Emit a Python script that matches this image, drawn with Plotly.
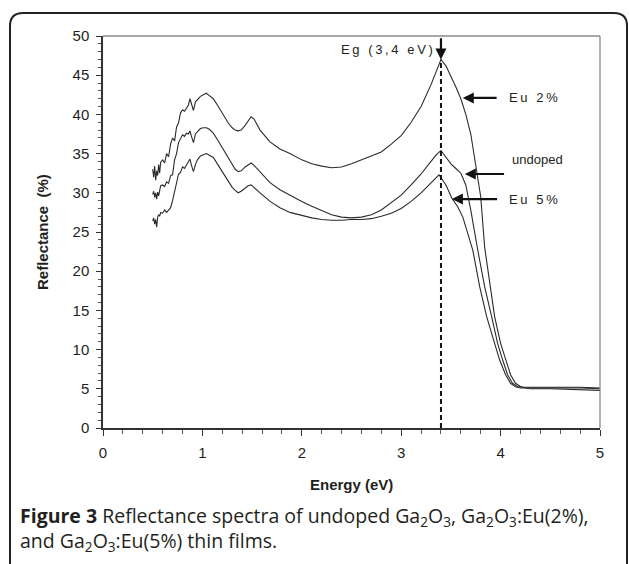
import plotly.graph_objects as go

# Reflectance spectra (%) versus photon energy (eV)
eu2_energy = [0.50, 0.51, 0.52, 0.53, 0.54, 0.55, 0.56, 0.57, 0.58,
              0.60, 0.62, 0.64, 0.66, 0.68, 0.70, 0.72, 0.74, 0.76, 0.78, 0.80, 0.82, 0.84, 0.86,
              0.875, 0.89, 0.91, 0.93, 0.95, 0.98,
              1.01, 1.04, 1.07, 1.11, 1.16, 1.21, 1.26, 1.30, 1.33, 1.36, 1.39, 1.43, 1.46, 1.49,
              1.52, 1.58, 1.68, 1.78, 1.88,
              2.0, 2.1, 2.2, 2.3, 2.4, 2.5, 2.6, 2.7, 2.8, 2.9, 3.0, 3.1, 3.2, 3.3,
              3.35, 3.40, 3.45, 3.50, 3.55, 3.60, 3.65, 3.70, 3.75, 3.80,
              3.84, 3.89, 3.94, 4.00, 4.06, 4.10, 4.15, 4.20, 4.25,
              4.30, 4.50, 4.80, 5.00]
eu2_refl = [33.0, 32.0, 33.4, 31.6, 32.8, 32.2, 33.6, 32.5, 33.9,
            34.2, 33.8, 35.0, 34.6, 36.2, 37.0, 36.6, 38.4, 38.9, 40.2, 40.6, 40.4, 40.9, 41.2,
            42.0, 41.4, 40.5, 41.6, 41.9, 42.3,
            42.5, 42.7, 42.4, 42.0, 41.0, 39.9, 38.9, 38.3, 38.0, 37.9, 38.0, 38.6, 39.2, 39.7,
            39.4, 38.0, 36.5, 35.6, 35.0,
            34.2, 33.7, 33.4, 33.2, 33.3, 33.7, 34.2, 34.7, 35.2, 36.2, 37.3, 39.0, 41.0, 43.8,
            45.5, 47.0, 46.2, 44.9, 43.5, 42.0, 40.0, 37.5, 33.5, 29.5,
            23.0, 18.5, 14.2, 10.8, 8.5, 6.8, 5.7, 5.3, 5.1,
            5.0, 5.0, 4.9, 4.8]

undoped_energy = [0.50, 0.51, 0.52, 0.53, 0.54, 0.55, 0.56, 0.57, 0.58,
                  0.60, 0.62, 0.64, 0.66, 0.68, 0.70, 0.72, 0.74, 0.76, 0.78, 0.80, 0.82, 0.84, 0.86,
                  0.875, 0.89, 0.91, 0.93, 0.95, 0.98,
                  1.01, 1.04, 1.07, 1.11, 1.16, 1.21, 1.26, 1.30, 1.33, 1.36, 1.39, 1.43, 1.46, 1.49,
                  1.52, 1.58, 1.68, 1.78, 1.88,
                  2.0, 2.1, 2.2, 2.3, 2.4, 2.5, 2.6, 2.7, 2.8, 2.9, 3.0, 3.1, 3.2, 3.3,
                  3.35, 3.40, 3.45, 3.50, 3.55, 3.60, 3.65, 3.70,
                  3.77, 3.84, 3.91, 3.97, 4.02, 4.07, 4.12, 4.17, 4.22,
                  4.30, 4.50, 4.80, 5.00]
undoped_refl = [29.8, 30.2, 29.4, 30.0, 29.2, 30.1, 29.6, 30.4, 30.9,
                31.0, 30.8, 31.4, 31.2, 32.2, 32.3, 34.2, 35.0, 36.4, 37.0, 37.4, 37.2, 37.6, 37.5,
                37.9, 37.2, 36.4, 37.5, 37.8, 38.2,
                38.3, 38.3, 38.1, 37.6, 36.6, 35.5, 34.5, 33.7, 33.0, 32.7, 32.8, 33.3, 33.6, 33.8,
                33.5, 32.7, 31.3, 30.4, 29.7,
                28.9, 28.3, 27.7, 27.2, 26.9, 26.8, 26.9, 27.2, 27.8, 28.7, 29.7, 31.0, 32.4, 34.0,
                34.8, 35.4, 34.5, 33.7, 33.1, 32.5, 31.0, 27.8,
                22.7, 18.0, 14.2, 10.8, 8.7, 6.8, 5.7, 5.3, 5.2,
                5.2, 5.2, 5.2, 5.1]

eu5_energy = [0.50, 0.51, 0.52, 0.53, 0.54, 0.55, 0.56, 0.57, 0.58,
              0.60, 0.62, 0.64, 0.66, 0.68, 0.70, 0.72, 0.74, 0.76, 0.78, 0.80, 0.82, 0.84, 0.86,
              0.875, 0.89, 0.91, 0.93, 0.95, 0.98,
              1.01, 1.04, 1.07, 1.11, 1.16, 1.21, 1.26, 1.30, 1.33, 1.36, 1.39, 1.43, 1.46, 1.49,
              1.52, 1.58, 1.68, 1.78, 1.88,
              2.0, 2.1, 2.2, 2.3, 2.4, 2.5, 2.6, 2.7, 2.8, 2.9, 3.0, 3.1, 3.2, 3.3,
              3.38, 3.45, 3.51, 3.57, 3.62, 3.67, 3.72, 3.79, 3.86, 3.93, 3.99,
              4.05, 4.10, 4.15, 4.20, 4.30, 4.50, 4.80, 5.00]
eu5_refl = [26.4, 26.8, 26.0, 26.6, 25.6, 26.9, 27.2, 27.0, 27.5,
            27.4, 27.8, 27.5, 27.8, 28.1, 29.0, 30.1, 31.2, 32.4, 32.6, 33.3, 33.1, 33.6, 33.9,
            34.3, 33.5, 32.7, 33.6, 34.2, 34.7,
            34.9, 35.0, 34.8, 34.5, 33.5, 32.5, 31.4, 30.7, 30.3, 30.0, 30.2, 30.6, 30.9, 31.0,
            30.7, 30.0, 28.9, 28.1, 27.5,
            27.1, 26.8, 26.6, 26.5, 26.5, 26.6, 26.6, 26.7, 27.0, 27.4, 28.0, 28.9, 30.0, 31.3,
            32.3, 31.0, 29.3, 28.2, 26.9, 24.8, 22.7, 18.0, 14.2, 11.2, 8.7,
            6.8, 5.7, 5.25, 5.1, 5.1, 5.1, 5.1, 5.0]

band_gap = 3.4
band_gap_refl = 47.0

x_ticks = [0, 1, 2, 3, 4, 5]
y_ticks = [0, 5, 10, 15, 20, 25, 30, 35, 40, 45, 50]

LINE = "#2b2b2b"
TXT = "#231f20"
AXFONT = "Liberation Sans, Arial, sans-serif"

# page geometry (pixels) used to place the frame and caption in paper units
W, H = 629, 564
L, R, T, B = 103, 29, 36, 136
PW, PH = W - L - R, H - T - B


def px(xp):
    return (xp - L) / PW


def py(yp):
    return (H - B - yp) / PH


fig = go.Figure()
for xs, ys in [(eu2_energy, eu2_refl), (undoped_energy, undoped_refl), (eu5_energy, eu5_refl)]:
    fig.add_trace(go.Scatter(x=xs, y=ys, mode="lines",
                             line=dict(color=LINE, width=1.1), showlegend=False,
                             hoverinfo="skip"))

shapes = [
    # band-gap marker
    dict(type="line", xref="x", yref="y", x0=band_gap, x1=band_gap, y0=0, y1=band_gap_refl,
         line=dict(color="#111", width=2, dash="5px,3px")),
    # light top and right frame of the plot area
    dict(type="line", xref="paper", yref="paper", x0=0, x1=1, y0=1, y1=1,
         line=dict(color="#8a8a8a", width=1.3)),
    dict(type="line", xref="paper", yref="paper", x0=1, x1=1, y0=0, y1=1,
         line=dict(color="#8a8a8a", width=1.3)),
]

# rounded figure box
bx0, bx1, by0, by1, rad = 10, 627, 13, 570, 13
path = (f"M {px(bx0)},{py(by1)} L {px(bx0)},{py(by0 + rad)} "
        f"Q {px(bx0)},{py(by0)} {px(bx0 + rad)},{py(by0)} "
        f"L {px(bx1 - rad)},{py(by0)} "
        f"Q {px(bx1)},{py(by0)} {px(bx1)},{py(by0 + rad)} "
        f"L {px(bx1)},{py(by1)}")
shapes.append(dict(type="path", xref="paper", yref="paper", path=path,
                   line=dict(color="#222", width=2)))

ann = []
# arrows pointing to the curves
arrows = [
    (band_gap, band_gap_refl, band_gap, 49.9),
    (3.62, 42.1, 3.975, 42.1),
    (3.64, 32.4, 4.05, 32.4),
    (3.51, 29.2, 3.98, 29.2),
]
for hx, hy, tx, ty in arrows:
    ann.append(dict(x=hx, y=hy, ax=tx, ay=ty, xref="x", yref="y", axref="x", ayref="y",
                    text="", showarrow=True, arrowhead=2, arrowsize=1, arrowwidth=2.2,
                    arrowcolor="#111"))

th = "\u2009"
ann += [
    dict(x=3.34, y=48.3, xref="x", yref="y", xanchor="right", yanchor="middle",
         text=th.join("Eg (3,4 eV)"), showarrow=False,
         font=dict(family=AXFONT, size=13, color=TXT)),
    dict(x=4.06, y=42.1, xref="x", yref="y", xanchor="left", yanchor="middle",
         text=th.join("Eu 2%"), showarrow=False,
         font=dict(family=AXFONT, size=13, color=TXT)),
    dict(x=4.09, y=34.2, xref="x", yref="y", xanchor="left", yanchor="middle",
         text="undoped", showarrow=False,
         font=dict(family=AXFONT, size=13, color=TXT)),
    dict(x=4.06, y=29.2, xref="x", yref="y", xanchor="left", yanchor="middle",
         text=th.join("Eu 5%"), showarrow=False,
         font=dict(family=AXFONT, size=13, color=TXT)),
    # axis titles
    dict(x=0.5, y=py(484), xref="paper", yref="paper", xanchor="center", yanchor="middle",
         text="<b>Energy (eV)</b>", showarrow=False,
         font=dict(family=AXFONT, size=15, color=TXT)),
    dict(x=px(42), y=0.5, xref="paper", yref="paper", xanchor="center", yanchor="middle",
         text="<b>Reflectance  (%)</b>", textangle=-90, showarrow=False,
         font=dict(family=AXFONT, size=15, color=TXT)),
    # caption
    dict(x=px(18), y=py(529), xref="paper", yref="paper", xanchor="left", yanchor="middle",
         align="left",
         text="<b>Figure 3</b> Reflectance spectra of undoped Ga<sub>2</sub>O<sub>3</sub>, "
              "Ga<sub>2</sub>O<sub>3</sub>:Eu(2%),<br>"
              "and Ga<sub>2</sub>O<sub>3</sub>:Eu(5%) thin films.",
         showarrow=False, font=dict(family="Open Sans, sans-serif", size=19.5, color=TXT)),
]

fig.update_layout(
    width=W, height=H,
    margin=dict(l=L, r=R, t=T, b=B),
    paper_bgcolor="white", plot_bgcolor="white",
    shapes=shapes, annotations=ann,
    xaxis=dict(range=[0, 5], tickvals=x_ticks, ticks="outside", ticklen=6, tickwidth=1.2,
               tickcolor="#333", showline=True, linecolor="#333", linewidth=1.5,
               showgrid=False, zeroline=False, ticklabelstandoff=4,
               tickfont=dict(family=AXFONT, size=15, color=TXT),
               minor=dict(dtick=0.2, ticks="outside", ticklen=4, tickwidth=1, tickcolor="#555")),
    yaxis=dict(range=[0, 50], tickvals=y_ticks, ticks="outside", ticklen=5, tickwidth=1.2,
               tickcolor="#333", showline=True, linecolor="#333", linewidth=1.5,
               showgrid=False, zeroline=False, ticklabelstandoff=4,
               tickfont=dict(family=AXFONT, size=15, color=TXT),
               minor=dict(dtick=1, ticks="outside", ticklen=3, tickwidth=1, tickcolor="#555")),
)

fig.write_html("out.html")
